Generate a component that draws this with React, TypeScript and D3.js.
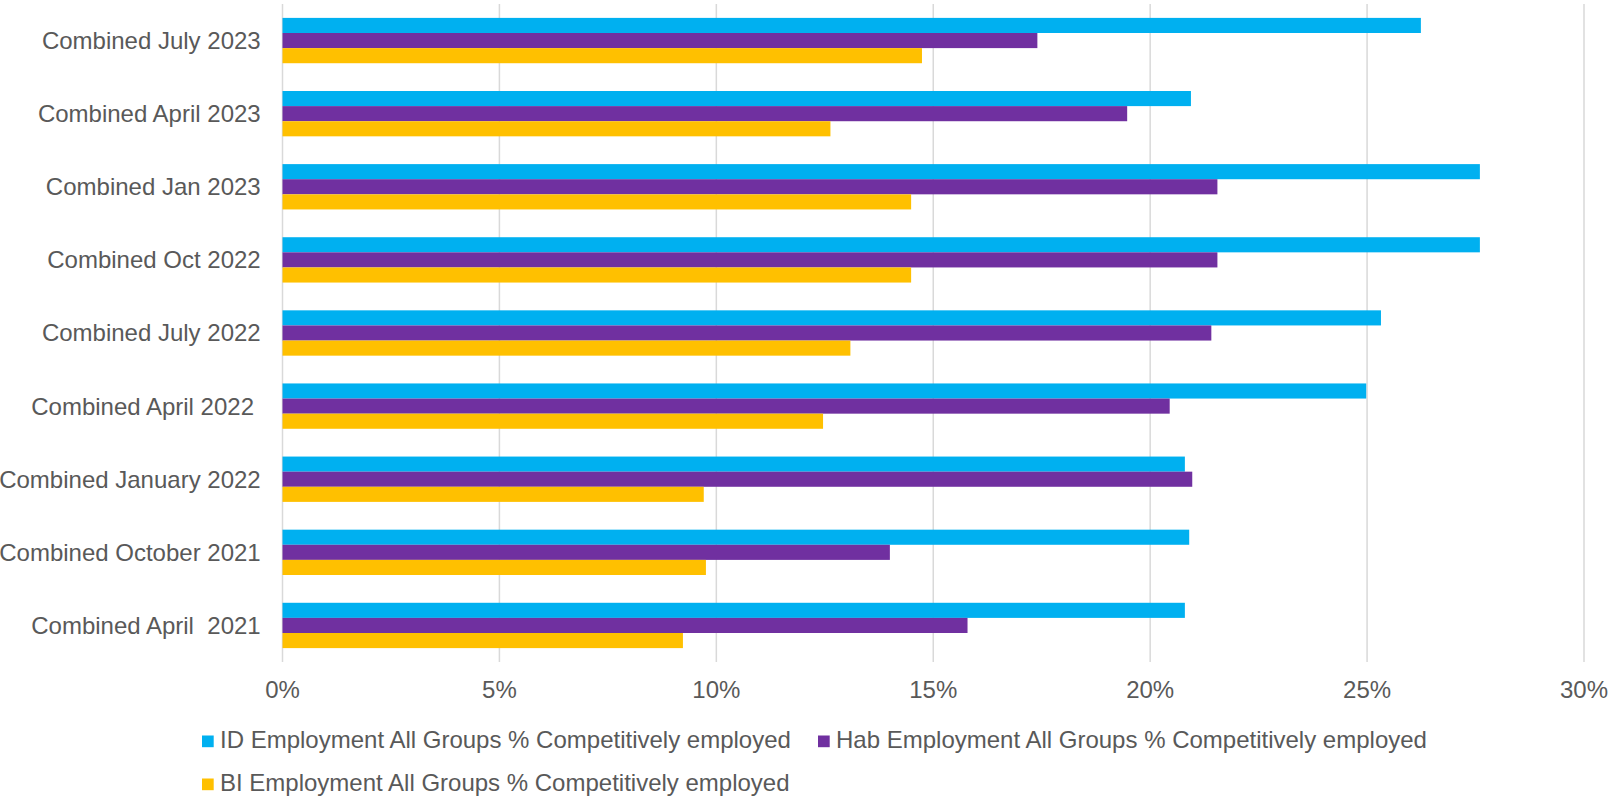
import React from "react";
import * as d3 from "d3";

const categories = [
  "Combined July 2023",
  "Combined April 2023",
  "Combined Jan 2023",
  "Combined Oct 2022",
  "Combined July 2022",
  "Combined April 2022 ",
  "Combined January 2022",
  "Combined October 2021",
  "Combined April  2021",
];

const idValues = [26.24, 20.94, 27.6, 27.6, 25.32, 24.98, 20.8, 20.9, 20.8];
const habValues = [17.4, 19.47, 21.55, 21.55, 21.41, 20.45, 20.97, 14.0, 15.79];
const biValues = [14.74, 12.63, 14.49, 14.49, 13.09, 12.46, 9.71, 9.76, 9.23];

const seriesNames = [
  "ID Employment All Groups % Competitively employed",
  "Hab Employment All Groups % Competitively employed",
  "BI Employment All Groups % Competitively employed",
];
const seriesColors = ["#00B0F0", "#7030A0", "#FFC000"];
const xTicks = [0, 5, 10, 15, 20, 25, 30];

const W = 1608;
const H = 796;
const FONT = "'Liberation Sans', Arial, sans-serif";
const TEXT = "#595959";
const FS = 24;

export default function App() {
  const x = d3.scaleLinear().domain([0, 30]).range([282.5, 1584]);
  const y = d3
    .scaleBand<string>()
    .domain(categories)
    .range([4, 662])
    .paddingInner(0.38)
    .paddingOuter(0.19);
  const sub = d3
    .scaleBand<number>()
    .domain([0, 1, 2])
    .range([0, y.bandwidth()]);
  const allSeries = [idValues, habValues, biValues];

  const legendItems = [
    { i: 0, x: 202, y: 748 },
    { i: 1, x: 818, y: 748 },
    { i: 2, x: 202, y: 791 },
  ];

  return (
    <svg
      width={W}
      height={H}
      style={{ position: "absolute", left: 0, top: 0, background: "#fff" }}
      fontFamily={FONT}
    >
      {xTicks.map((t) => (
        <line
          key={"g" + t}
          x1={x(t)}
          x2={x(t)}
          y1={4}
          y2={662}
          stroke="#d9d9d9"
          strokeWidth={1.5}
        />
      ))}
      {categories.map((c, ci) => (
        <g key={c} transform={`translate(0,${y(c)})`}>
          {allSeries.map((vals, si) => (
            <rect
              key={si}
              x={x(0)}
              y={sub(si)}
              width={x(vals[ci]) - x(0)}
              height={sub.bandwidth()}
              fill={seriesColors[si]}
            />
          ))}
        </g>
      ))}
      {categories.map((c) => (
        <text
          key={"l" + c}
          x={260.7}
          y={(y(c) as number) + y.bandwidth() / 2}
          dy="0.35em"
          textAnchor="end"
          fontSize={FS}
          fill={TEXT}
          style={{ whiteSpace: "pre" }}
          xmlSpace="preserve"
        >
          {c}
        </text>
      ))}
      {xTicks.map((t) => (
        <text
          key={"t" + t}
          x={x(t)}
          y={698}
          textAnchor="middle"
          fontSize={FS}
          fill={TEXT}
        >
          {d3.format(".0%")(t / 100)}
        </text>
      ))}
      {legendItems.map((it) => (
        <g key={"lg" + it.i}>
          <rect
            x={it.x}
            y={it.y - 12.5}
            width={11.7}
            height={11.7}
            fill={seriesColors[it.i]}
          />
          <text x={it.x + 18} y={it.y} fontSize={FS} fill={TEXT}>
            {seriesNames[it.i]}
          </text>
        </g>
      ))}
    </svg>
  );
}
